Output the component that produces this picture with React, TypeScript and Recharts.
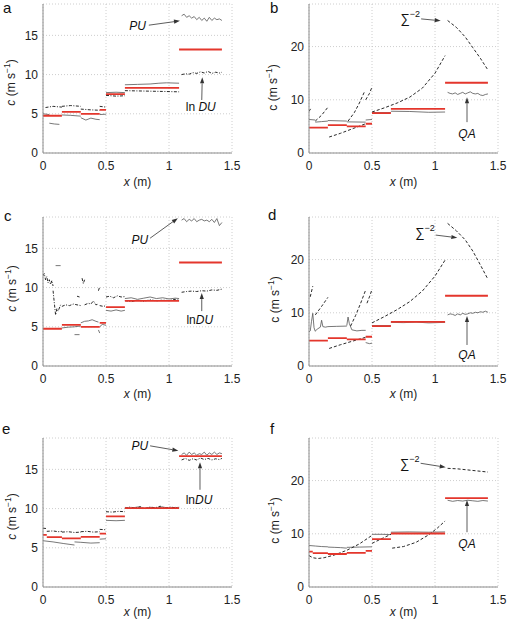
import React from 'react';
import { LineChart, Line, XAxis, YAxis, CartesianGrid, ReferenceLine } from 'recharts';

type Pt = [number, number];
type Seg = Pt[];

const xTicks = [0, 0.5, 1, 1.5];
const cTicks = [0, 5, 10, 15];
const sigTicks = [0, 10, 20];

// true layer velocities (red steps)
const layersAD: Seg[] = [
  [[0, 4.75], [0.15, 4.75]],
  [[0.15, 5.25], [0.3, 5.25]],
  [[0.3, 5.0], [0.45, 5.0]],
  [[0.45, 5.5], [0.5, 5.5]],
  [[0.5, 7.5], [0.65, 7.5]],
  [[0.65, 8.3], [1.08, 8.3]],
  [[1.08, 13.2], [1.42, 13.2]],
];
const layersEF: Seg[] = [
  [[0, 6.65], [0.03, 6.65]],
  [[0.03, 6.35], [0.15, 6.35]],
  [[0.15, 6.2], [0.3, 6.2]],
  [[0.3, 6.4], [0.45, 6.4]],
  [[0.45, 6.8], [0.5, 6.8]],
  [[0.5, 9.0], [0.65, 9.0]],
  [[0.65, 10.05], [1.08, 10.05]],
  [[1.08, 16.7], [1.42, 16.7]],
];

// panel a
const puA: Seg[] = [
  [[0, 5.0], [0.05, 4.9]],
  [[0.05, 3.8], [0.09, 3.7], [0.13, 3.65]],
  [[0.15, 4.85], [0.22, 4.8], [0.3, 4.7]],
  [[0.3, 4.5], [0.34, 4.2], [0.38, 4.45], [0.42, 4.3], [0.45, 4.25]],
  [[0.45, 4.9], [0.5, 4.95]],
  [[0.5, 7.7], [0.58, 7.75], [0.65, 7.7]],
  [[0.65, 8.7], [0.75, 8.75], [0.85, 8.8], [0.92, 8.9], [0.98, 8.95], [1.08, 8.9]],
  [[1.1, 17.5], [1.12, 17.7], [1.14, 17.3], [1.16, 17.5], [1.18, 17.2], [1.2, 17.4], [1.22, 17.0], [1.24, 17.3], [1.26, 16.9], [1.28, 17.2], [1.3, 16.8], [1.32, 17.3], [1.34, 16.9], [1.36, 17.2], [1.38, 17.0], [1.4, 17.1], [1.42, 16.9]],
];
const lnduA: Seg[] = [
  [[0.02, 5.8], [0.08, 5.95], [0.15, 5.85]],
  [[0.15, 5.95], [0.22, 6.05], [0.3, 5.95]],
  [[0.3, 5.6], [0.38, 5.5], [0.45, 5.45]],
  [[0.45, 5.95], [0.5, 5.85]],
  [[0.5, 7.35], [0.58, 7.25], [0.65, 7.3]],
  [[0.65, 7.95], [0.8, 7.9], [0.95, 7.85], [1.08, 7.8]],
  [[1.1, 10.0], [1.13, 10.1], [1.16, 10.05], [1.19, 10.25], [1.22, 10.15], [1.25, 10.35], [1.28, 10.2], [1.31, 10.4], [1.34, 10.15], [1.37, 10.3], [1.4, 10.2], [1.42, 10.3]],
];

// panel b
const qaB: Seg[] = [
  [[0, 6.3], [0.05, 6.2]],
  [[0.05, 5.8], [0.1, 5.9], [0.15, 6.0]],
  [[0.15, 6.1], [0.3, 6.0]],
  [[0.3, 5.85], [0.45, 5.8]],
  [[0.45, 6.2], [0.5, 6.3]],
  [[0.5, 7.6], [0.65, 7.6]],
  [[0.65, 7.85], [0.8, 7.8], [0.95, 7.65], [1.08, 7.7]],
  [[1.1, 11.4], [1.12, 11.2], [1.14, 11.1], [1.16, 11.3], [1.18, 11.0], [1.2, 11.2], [1.22, 11.4], [1.24, 11.1], [1.26, 11.3], [1.28, 11.5], [1.3, 11.2], [1.32, 11.1], [1.34, 11.2], [1.36, 10.9], [1.38, 10.8], [1.4, 11.0], [1.42, 11.1]],
];
const sigmaB: Seg[] = [
  [[0, 7.8], [0.02, 8.6]],
  [[0.05, 6.0], [0.1, 7.1], [0.15, 8.6]],
  [[0.16, 3.0], [0.25, 3.7], [0.35, 4.6], [0.45, 5.5]],
  [[0.31, 6.0], [0.36, 7.6], [0.4, 9.4], [0.44, 11.5]],
  [[0.45, 10.0], [0.48, 11.2], [0.5, 12.4]],
  [[0.5, 7.7], [0.6, 8.5], [0.7, 9.4], [0.8, 10.5], [0.9, 12.2], [1.0, 15.0], [1.08, 18.3]],
  [[1.1, 24.9], [1.17, 23.6], [1.24, 21.8], [1.3, 19.8], [1.36, 17.8], [1.42, 15.6]],
];

// panel c
const puC: Seg[] = [
  [[0.1, 12.8], [0.14, 12.8]],
  [[0.15, 4.85], [0.2, 4.95], [0.25, 5.0], [0.3, 5.1]],
  [[0.25, 4.0], [0.29, 4.0]],
  [[0.3, 5.5], [0.33, 5.7], [0.36, 5.75], [0.39, 5.9], [0.42, 5.7], [0.44, 5.6]],
  [[0.44, 4.6], [0.45, 4.2]],
  [[0.45, 5.0], [0.47, 5.3], [0.5, 5.2]],
  [[0.5, 7.1], [0.54, 7.0], [0.58, 7.15], [0.62, 7.0], [0.65, 7.1]],
  [[0.65, 8.6], [0.7, 8.7], [0.75, 8.5], [0.8, 8.65], [0.85, 8.8], [0.9, 8.6], [0.95, 8.7], [1.0, 8.55], [1.05, 8.65], [1.08, 8.6]],
  [[1.1, 18.6], [1.12, 18.8], [1.14, 18.4], [1.16, 18.7], [1.18, 18.5], [1.2, 18.8], [1.22, 18.4], [1.24, 18.6], [1.26, 18.7], [1.28, 18.5], [1.3, 18.6], [1.32, 18.4], [1.34, 18.7], [1.36, 18.3], [1.38, 18.8], [1.4, 17.9], [1.42, 18.3]],
];
const lnduC: Seg[] = [
  [[0, 11.5], [0.01, 11.8], [0.02, 11.0], [0.03, 11.4], [0.04, 10.6], [0.05, 11.0], [0.06, 10.4], [0.07, 10.9], [0.08, 10.2]],
  [[0.08, 9.6], [0.09, 8.0], [0.1, 6.5], [0.11, 7.3], [0.12, 7.0], [0.14, 7.8]],
  [[0.15, 7.6], [0.18, 7.8], [0.21, 7.7], [0.24, 7.9], [0.27, 7.8], [0.3, 7.7]],
  [[0.27, 8.9], [0.29, 8.8]],
  [[0.31, 11.2], [0.32, 10.5], [0.33, 11.0]],
  [[0.33, 7.8], [0.36, 8.0], [0.38, 7.9], [0.4, 8.3], [0.42, 7.8], [0.44, 7.9]],
  [[0.44, 9.6], [0.45, 10.1]],
  [[0.45, 7.7], [0.48, 7.6], [0.5, 7.7]],
  [[0.5, 8.8], [0.53, 8.9], [0.56, 8.7], [0.59, 8.95], [0.62, 8.8], [0.65, 8.85]],
  [[0.65, 8.35], [0.7, 8.2], [0.75, 8.4], [0.8, 8.25], [0.85, 8.45], [0.9, 8.3], [0.95, 8.4], [1.0, 8.35], [1.05, 8.5], [1.08, 8.4]],
  [[1.1, 9.4], [1.14, 9.5], [1.18, 9.55], [1.22, 9.5], [1.26, 9.6], [1.3, 9.55], [1.34, 9.7], [1.38, 9.65], [1.42, 9.8]],
];

// panel d
const qaD: Seg[] = [
  [[0, 6.4], [0.01, 6.6], [0.02, 8.4], [0.03, 9.9], [0.04, 7.2], [0.05, 6.5]],
  [[0.05, 6.6], [0.07, 7.0], [0.09, 7.3], [0.1, 8.6], [0.11, 7.4], [0.13, 7.3], [0.15, 7.4]],
  [[0.15, 7.4], [0.22, 7.45], [0.3, 7.5]],
  [[0.3, 7.6], [0.31, 9.2], [0.32, 8.0], [0.34, 6.8], [0.38, 6.6], [0.42, 6.7], [0.45, 6.7]],
  [[0.45, 4.4], [0.48, 4.2], [0.5, 4.3]],
  [[0.5, 7.6], [0.65, 7.6]],
  [[0.65, 8.2], [0.75, 8.15], [0.85, 8.25], [0.95, 8.1], [1.08, 8.2]],
  [[1.1, 9.6], [1.12, 9.8], [1.14, 9.7], [1.16, 9.5], [1.18, 9.8], [1.2, 9.6], [1.22, 9.9], [1.24, 9.7], [1.26, 9.8], [1.28, 10.0], [1.3, 9.9], [1.32, 10.1], [1.34, 10.0], [1.36, 10.2], [1.38, 10.1], [1.4, 10.3], [1.42, 10.1]],
];
const sigmaD: Seg[] = [
  [[0.01, 13.0], [0.03, 15.0]],
  [[0.05, 9.6], [0.1, 11.2], [0.15, 12.9]],
  [[0.16, 3.3], [0.25, 4.0], [0.35, 4.7], [0.45, 5.4]],
  [[0.33, 7.5], [0.37, 9.5], [0.41, 11.8], [0.45, 14.3]],
  [[0.46, 11.8], [0.48, 13.0], [0.5, 14.4]],
  [[0.5, 8.1], [0.6, 9.3], [0.7, 10.6], [0.8, 12.1], [0.9, 14.1], [1.0, 16.9], [1.08, 19.9]],
  [[1.1, 26.8], [1.17, 25.4], [1.24, 23.7], [1.3, 21.6], [1.36, 19.0], [1.42, 16.3]],
];

// panel e
const puE: Seg[] = [
  [[0, 5.9], [0.08, 5.75], [0.16, 5.55], [0.25, 5.35]],
  [[0.25, 5.75], [0.3, 5.7], [0.38, 5.6], [0.45, 5.65]],
  [[0.45, 6.1], [0.5, 6.15]],
  [[0.5, 8.5], [0.58, 8.45], [0.65, 8.5]],
  [[0.65, 10.15], [0.7, 10.05], [0.75, 10.2], [0.8, 10.0], [0.85, 10.15], [0.9, 10.05], [0.95, 10.2], [1.0, 10.05], [1.05, 10.15], [1.08, 10.1]],
  [[1.1, 16.9], [1.12, 17.1], [1.14, 16.8], [1.16, 17.2], [1.18, 16.9], [1.2, 17.1], [1.22, 16.8], [1.24, 17.0], [1.26, 16.9], [1.28, 17.2], [1.3, 16.8], [1.32, 17.1], [1.34, 16.9], [1.36, 17.2], [1.38, 16.9], [1.4, 17.1], [1.42, 17.0]],
];
const lnduE: Seg[] = [
  [[0, 7.5], [0.03, 7.45]],
  [[0.03, 7.1], [0.08, 7.15], [0.12, 7.05], [0.15, 7.1]],
  [[0.15, 7.0], [0.2, 7.05], [0.25, 6.95], [0.3, 7.0]],
  [[0.3, 7.05], [0.35, 7.1], [0.4, 7.0], [0.45, 7.05]],
  [[0.45, 7.35], [0.5, 7.3]],
  [[0.5, 9.6], [0.55, 9.55], [0.6, 9.65], [0.65, 9.6]],
  [[0.65, 10.0], [0.69, 10.2], [0.73, 10.05], [0.77, 10.25], [0.81, 10.0], [0.85, 10.2], [0.89, 10.1], [0.93, 10.3], [0.97, 10.05], [1.01, 10.2], [1.05, 10.1], [1.08, 10.2]],
  [[1.1, 16.2], [1.13, 16.4], [1.16, 16.15], [1.19, 16.35], [1.22, 16.2], [1.25, 16.45], [1.28, 16.25], [1.31, 16.4], [1.34, 16.2], [1.37, 16.35], [1.4, 16.25], [1.42, 16.4]],
];

// panel f
const qaF: Seg[] = [
  [[0, 7.8], [0.05, 7.7], [0.1, 7.6], [0.15, 7.55]],
  [[0.15, 7.5], [0.2, 7.45], [0.25, 7.4], [0.3, 7.3]],
  [[0.3, 7.45], [0.4, 7.5], [0.5, 7.55]],
  [[0.5, 9.9], [0.58, 9.9], [0.65, 9.85]],
  [[0.65, 10.3], [0.8, 10.35], [0.95, 10.3], [1.08, 10.35]],
  [[1.1, 16.3], [1.14, 16.1], [1.18, 16.25], [1.22, 16.15], [1.26, 16.3], [1.3, 16.2], [1.34, 16.1], [1.38, 16.25], [1.42, 16.15]],
];
const sigmaF: Seg[] = [
  [[0, 5.9], [0.03, 5.5], [0.07, 5.35], [0.12, 5.5], [0.2, 6.0], [0.3, 6.9], [0.4, 8.1], [0.5, 9.7]],
  [[0.5, 8.2], [0.57, 9.0], [0.65, 9.9]],
  [[0.66, 7.3], [0.75, 7.6], [0.85, 8.4], [0.95, 9.8], [1.02, 11.1], [1.08, 12.4]],
  [[1.1, 22.3], [1.18, 22.2], [1.26, 22.0], [1.34, 21.8], [1.42, 21.6]],
];

const FONT = '"Liberation Sans", Arial, Helvetica, sans-serif';
const RED = '#e4362c';

const lineStyles: Record<string, any> = {
  red: { stroke: RED, strokeWidth: 1.8 },
  solid: { stroke: '#555', strokeWidth: 0.8 },
  dash: { stroke: '#111', strokeWidth: 0.9, strokeDasharray: '3 2' },
  dashdot: { stroke: '#111', strokeWidth: 0.9, strokeDasharray: '3 1.5 1 1.5' },
};

function toRows(segs: Seg[]) {
  const rows: { x: number; y: number | null }[] = [];
  segs.forEach((s, i) => {
    if (i > 0) rows.push({ x: s[0][0], y: null });
    s.forEach(([x, y]) => rows.push({ x, y }));
  });
  return rows;
}

type Note = {
  from: Pt;
  to: Pt;
  text: string;
  dx: number;
  dy: number;
  anchor: 'start' | 'middle' | 'end';
};

function noteLabel(text: string) {
  if (text === 'PU' || text === 'QA') return <tspan fontStyle="italic">{text}</tspan>;
  if (text === 'ln DU' || text === 'lnDU')
    return (
      <>
        <tspan>{text === 'ln DU' ? 'ln\u00a0' : 'ln'}</tspan>
        <tspan fontStyle="italic">DU</tspan>
      </>
    );
  return (
    <>
      <tspan fontSize={13}>∑</tspan>
      <tspan dy={-6} fontSize={9}>−2</tspan>
    </>
  );
}

const arrowShape = (note: Note) => (p: any) => {
  const x1 = Number(p.x1), y1 = Number(p.y1), x2 = Number(p.x2), y2 = Number(p.y2);
  const a = Math.atan2(y2 - y1, x2 - x1);
  const len = 6, hw = 2.1;
  const bx = x2 - len * Math.cos(a);
  const by = y2 - len * Math.sin(a);
  const pts = `${x2},${y2} ${bx - hw * Math.sin(a)},${by + hw * Math.cos(a)} ${bx + hw * Math.sin(a)},${by - hw * Math.cos(a)}`;
  return (
    <g>
      <line x1={x1} y1={y1} x2={bx} y2={by} stroke="#333" strokeWidth={0.8} />
      <polygon points={pts} fill="#333" />
      <text x={x1 + note.dx} y={y1 + note.dy} textAnchor={note.anchor} fontSize={12} fontFamily={FONT} fill="#111">
        {noteLabel(note.text)}
      </text>
    </g>
  );
};

const notesA: Note[] = [
  { from: [0.84, 16.3], to: [1.087, 16.85], text: 'PU', dx: -3, dy: 5, anchor: 'end' },
  { from: [1.26, 6.76], to: [1.264, 9.65], text: 'ln DU', dx: -1, dy: 11.5, anchor: 'middle' },
];
const notesB: Note[] = [
  { from: [0.89, 25.2], to: [1.045, 24.85], text: 'S', dx: -1, dy: 4, anchor: 'end' },
  { from: [1.254, 5.8], to: [1.254, 10.5], text: 'QA', dx: 0, dy: 16, anchor: 'middle' },
];
const notesC: Note[] = [
  { from: [0.85, 16.3], to: [1.07, 18.85], text: 'PU', dx: -2, dy: 6, anchor: 'end' },
  { from: [1.26, 7.0], to: [1.26, 9.3], text: 'lnDU', dx: -2, dy: 13, anchor: 'middle' },
];
const notesD: Note[] = [
  { from: [1.006, 24.6], to: [1.177, 24.1], text: 'S', dx: -1, dy: 1.5, anchor: 'end' },
  { from: [1.254, 3.95], to: [1.254, 9.4], text: 'QA', dx: 0, dy: 14, anchor: 'middle' },
];
const notesE: Note[] = [
  { from: [0.85, 18.0], to: [1.074, 17.38], text: 'PU', dx: -2, dy: 4, anchor: 'end' },
  { from: [1.246, 12.4], to: [1.246, 15.9], text: 'lnDU', dx: -1, dy: 14, anchor: 'middle' },
];
const notesF: Note[] = [
  { from: [0.886, 23.25], to: [1.085, 22.5], text: 'S', dx: -1, dy: 5, anchor: 'end' },
  { from: [1.254, 10.3], to: [1.254, 16.35], text: 'QA', dx: 0, dy: 15.5, anchor: 'middle' },
];

type Series = { segs: Seg[]; kind: string };

type PanelProps = {
  left: number;
  top: number;
  padLeft: number;
  yMax: number;
  yTicks: number[];
  italicC: boolean;
  labelGap: number;
  labelShift: number;
  xLabelDy: number;
  series: Series[];
  notes: Note[];
};

const PLOT_T = 4;
const PLOT_W = 189;
const PLOT_H = 149;
const Y_W = 30;

function Panel({ left, top, padLeft, yMax, yTicks, italicC, labelGap, labelShift, xLabelDy, series, notes }: PanelProps) {
  const tickStyle = { fontSize: 12, fill: '#222', fontFamily: FONT };
  const plotL = padLeft + Y_W;
  const yLabelX = plotL - labelGap;
  const yLabelY = PLOT_T + PLOT_H / 2 + labelShift;
  return (
    <div style={{ position: 'absolute', left, top }}>
      <LineChart width={plotL + PLOT_W + 10} height={193} margin={{ top: PLOT_T, right: 10, bottom: 10, left: padLeft }}>
        <CartesianGrid stroke="#c2c2c2" strokeDasharray="1 2" strokeWidth={0.8} />
        <XAxis
          type="number"
          dataKey="x"
          domain={[0, 1.5]}
          ticks={xTicks}
          interval={0}
          allowDataOverflow
          height={30}
          tickLine={false}
          axisLine={{ stroke: '#8c8c8c' }}
          tick={tickStyle}
          tickFormatter={(v: number) => String(v)}
          label={{
            content: () => (
              <text x={plotL + PLOT_W / 2} y={PLOT_T + PLOT_H + xLabelDy} textAnchor="middle" fontSize={12} fontFamily={FONT} fill="#222">
                <tspan fontStyle="italic">x</tspan> (m)
              </text>
            ),
          }}
        />
        <YAxis
          type="number"
          domain={[0, yMax]}
          ticks={yTicks}
          interval={0}
          allowDataOverflow
          width={Y_W}
          tickSize={3}
          tickLine={false}
          axisLine={{ stroke: '#8c8c8c' }}
          tick={tickStyle}
          label={{
            content: () => (
              <text
                x={yLabelX}
                y={yLabelY}
                transform={`rotate(-90, ${yLabelX}, ${yLabelY})`}
                textAnchor="middle"
                fontSize={12}
                fontFamily={FONT}
                fill="#222"
              >
                <tspan fontStyle={italicC ? 'italic' : 'normal'}>c</tspan>
                <tspan> (m s</tspan>
                <tspan dy={-5} fontSize={8.5}>−1</tspan>
                <tspan dy={5}>)</tspan>
              </text>
            ),
          }}
        />
        {series.map((s, i) => (
          <Line
            key={i}
            data={toRows(s.segs)}
            dataKey="y"
            type="linear"
            dot={false}
            activeDot={false}
            connectNulls={false}
            isAnimationActive={false}
            {...lineStyles[s.kind]}
          />
        ))}
        {notes.map((n, i) => (
          <ReferenceLine
            key={`n${i}`}
            segment={[
              { x: n.from[0], y: n.from[1] },
              { x: n.to[0], y: n.to[1] },
            ]}
            ifOverflow="visible"
            shape={arrowShape(n)}
          />
        ))}
      </LineChart>
    </div>
  );
}

const letterStyle = (left: number, top: number): React.CSSProperties => ({
  position: 'absolute',
  left,
  top,
  fontSize: 15,
  lineHeight: '15px',
  fontFamily: FONT,
  color: '#111',
});

export default function App() {
  return (
    <div style={{ position: 'absolute', left: 0, top: 0, width: 508, height: 622, overflow: 'hidden', background: '#fff' }}>
      <Panel left={0} top={0} padLeft={13} yMax={19} yTicks={cTicks} italicC labelGap={28} labelShift={4} xLabelDy={33}
        series={[{ segs: puA, kind: 'solid' }, { segs: lnduA, kind: 'dashdot' }, { segs: layersAD, kind: 'red' }]} notes={notesA} />
      <Panel left={256} top={0} padLeft={23} yMax={28} yTicks={sigTicks} italicC={false} labelGap={32} labelShift={9} xLabelDy={33}
        series={[{ segs: qaB, kind: 'solid' }, { segs: sigmaB, kind: 'dash' }, { segs: layersAD, kind: 'red' }]} notes={notesB} />
      <Panel left={0} top={213} padLeft={13} yMax={19} yTicks={cTicks} italicC labelGap={27} labelShift={-3} xLabelDy={32}
        series={[{ segs: puC, kind: 'solid' }, { segs: lnduC, kind: 'dashdot' }, { segs: layersAD, kind: 'red' }]} notes={notesC} />
      <Panel left={256} top={213} padLeft={23} yMax={28} yTicks={sigTicks} italicC={false} labelGap={30} labelShift={8} xLabelDy={32}
        series={[{ segs: qaD, kind: 'solid' }, { segs: sigmaD, kind: 'dash' }, { segs: layersAD, kind: 'red' }]} notes={notesD} />
      <Panel left={0} top={434} padLeft={13} yMax={19} yTicks={cTicks} italicC labelGap={27} labelShift={4} xLabelDy={29}
        series={[{ segs: puE, kind: 'solid' }, { segs: lnduE, kind: 'dashdot' }, { segs: layersEF, kind: 'red' }]} notes={notesE} />
      <Panel left={256} top={434} padLeft={23} yMax={28} yTicks={sigTicks} italicC={false} labelGap={30} labelShift={8} xLabelDy={29}
        series={[{ segs: qaF, kind: 'solid' }, { segs: sigmaF, kind: 'dash' }, { segs: layersEF, kind: 'red' }]} notes={notesF} />
      <div style={letterStyle(3, 0)}>a</div>
      <div style={letterStyle(270, 0)}>b</div>
      <div style={letterStyle(4, 208)}>c</div>
      <div style={letterStyle(268, 207)}>d</div>
      <div style={letterStyle(2, 421)}>e</div>
      <div style={letterStyle(270, 421)}>f</div>
    </div>
  );
}
